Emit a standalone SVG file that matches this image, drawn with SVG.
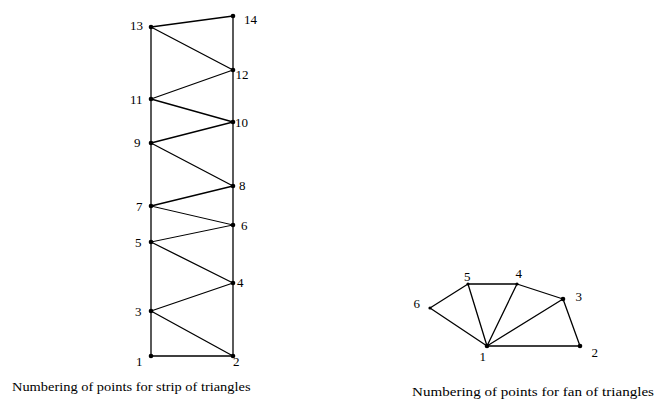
<svg xmlns="http://www.w3.org/2000/svg" width="661" height="413" viewBox="0 0 661 413">
<style>
.e{stroke:#000;stroke-width:1.3;fill:none;stroke-linecap:round}
.d{fill:#000}
text{font-family:'Liberation Serif','Times New Roman','DejaVu Serif',serif;font-size:13px;fill:#000}
</style>
<rect width="661" height="413" fill="#fff"/>
<g id="connectors">
<line class="e" x1="151" y1="27" x2="151" y2="356"/>
<line class="e" x1="233" y1="16" x2="233" y2="356"/>
<line class="e" x1="151" y1="356" x2="233" y2="356"/>
<line class="e" x1="151" y1="27" x2="233" y2="16"/>
<line class="e" x1="151" y1="311" x2="233" y2="356"/>
<line class="e" x1="151" y1="311" x2="233" y2="283"/>
<line class="e" x1="151" y1="242" x2="233" y2="283"/>
<line class="e" x1="151" y1="242" x2="233" y2="225" style="stroke-width:1"/>
<line class="e" x1="151" y1="206" x2="233" y2="225" style="stroke-width:1"/>
<line class="e" x1="151" y1="206" x2="233" y2="186"/>
<line class="e" x1="151" y1="143" x2="233" y2="186"/>
<line class="e" x1="151" y1="143" x2="233" y2="122"/>
<line class="e" x1="151" y1="99" x2="233" y2="122"/>
<line class="e" x1="151" y1="99" x2="233" y2="70"/>
<line class="e" x1="151" y1="27" x2="233" y2="70"/>
<line class="e" x1="487" y1="346" x2="580" y2="346"/>
<line class="e" x1="580" y1="346" x2="563" y2="299"/>
<line class="e" x1="563" y1="299" x2="517" y2="284"/>
<line class="e" x1="517" y1="284" x2="468" y2="284"/>
<line class="e" x1="468" y1="284" x2="430" y2="308"/>
<line class="e" x1="430" y1="308" x2="487" y2="346"/>
<line class="e" x1="487" y1="346" x2="468" y2="284"/>
<line class="e" x1="487" y1="346" x2="517" y2="284"/>
<line class="e" x1="487" y1="346" x2="563" y2="299"/>
</g>
<g id="strip-1"><circle class="d" cx="151" cy="356" r="2.3"/><text x="136" y="366">1</text></g>
<g id="strip-2"><circle class="d" cx="233" cy="356" r="2.3"/><text x="233" y="366">2</text></g>
<g id="strip-3"><circle class="d" cx="151" cy="311" r="2.3"/><text x="135" y="316">3</text></g>
<g id="strip-4"><circle class="d" cx="233" cy="283" r="2.3"/><text x="237" y="287">4</text></g>
<g id="strip-5"><circle class="d" cx="151" cy="242" r="2.3"/><text x="135" y="247">5</text></g>
<g id="strip-6"><circle class="d" cx="233" cy="225" r="2.3"/><text x="241" y="229.5">6</text></g>
<g id="strip-7"><circle class="d" cx="151" cy="206" r="2.3"/><text x="136" y="210.5">7</text></g>
<g id="strip-8"><circle class="d" cx="233" cy="186" r="2.3"/><text x="239" y="189.5">8</text></g>
<g id="strip-9"><circle class="d" cx="151" cy="143" r="2.3"/><text x="134" y="147">9</text></g>
<g id="strip-10"><circle class="d" cx="233" cy="122" r="2.3"/><text x="235" y="127">10</text></g>
<g id="strip-11"><circle class="d" cx="151" cy="99" r="2.3"/><text x="130" y="103.5">11</text></g>
<g id="strip-12"><circle class="d" cx="233" cy="70" r="2.3"/><text x="235.5" y="78.5">12</text></g>
<g id="strip-13"><circle class="d" cx="151" cy="27" r="2.3"/><text x="130" y="29.5">13</text></g>
<g id="strip-14"><circle class="d" cx="233" cy="16" r="2.3"/><text x="244" y="23.5">14</text></g>
<g id="fan-1"><circle class="d" cx="487" cy="346" r="2.3"/><text x="479.5" y="361">1</text></g>
<g id="fan-2"><circle class="d" cx="580" cy="346" r="2.3"/><text x="591.5" y="357">2</text></g>
<g id="fan-3"><circle class="d" cx="563" cy="299" r="2.3"/><text x="575.5" y="300.5">3</text></g>
<g id="fan-4"><circle class="d" cx="517" cy="284" r="1.6"/><text x="515.5" y="277.5">4</text></g>
<g id="fan-5"><circle class="d" cx="468" cy="284" r="1.6"/><text x="464" y="281">5</text></g>
<g id="fan-6"><circle class="d" cx="430" cy="308" r="1.6"/><text x="413.5" y="308">6</text></g>
<g id="captions">
<text x="12" y="391" textLength="238.5" lengthAdjust="spacingAndGlyphs">Numbering of points for strip of triangles</text>
<text x="412" y="396" textLength="242" lengthAdjust="spacingAndGlyphs">Numbering of points for fan of triangles</text>
</g>
</svg>
